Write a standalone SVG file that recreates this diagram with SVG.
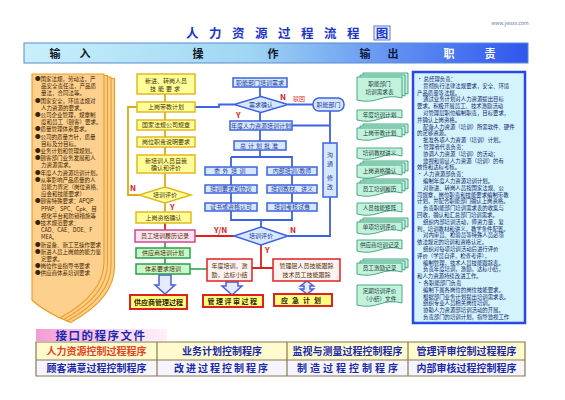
<svg xmlns="http://www.w3.org/2000/svg" width="565" height="400" viewBox="0 0 565 400">
<defs>
<linearGradient id="hdr" x1="0" y1="0" x2="1" y2="0">
<stop offset="0" stop-color="#c9f0fb"/><stop offset="0.45" stop-color="#9fd6f3"/><stop offset="0.75" stop-color="#5f8ef2"/><stop offset="1" stop-color="#2f55ee"/>
</linearGradient>
<linearGradient id="pink" x1="0" y1="0" x2="1" y2="0">
<stop offset="0" stop-color="#f59ad6"/><stop offset="0.6" stop-color="#fcd4ee"/><stop offset="1" stop-color="#fff0fa"/>
</linearGradient>
<style>
text{font-family:"Noto Sans CJK SC","Noto Sans",sans-serif;}
.yb{fill:#ffff99;stroke:#e3b81c;stroke-width:1.5}
.bb{fill:#d6e8ff;stroke:#3d63e0;stroke-width:1.5}
.gb{fill:#c8f7c8;stroke:#2aa04a;stroke-width:1.5}
.pb{fill:#ffe4f0;stroke:#d24a8c;stroke-width:1.5}
.rb{fill:#ffff80;stroke:#e02020;stroke-width:2}
.rw{fill:#fff2f2;stroke:#e02020;stroke-width:1.5}
.doc{fill:#c2f2da;stroke:#3a9f80;stroke-width:0.9}
.lay{fill:#fdd08e;stroke:#f09a20;stroke-width:1.1}
.blk{fill:#e6ecff;stroke:#4a5ee0;stroke-width:1.5}
.bt{font-size:6px;fill:#1f3a9a;text-anchor:middle}
.yt{font-size:6px;fill:#4a3000;text-anchor:middle}
.dt{font-size:5.6px;fill:#1c3a3a;text-anchor:middle}
.lt{font-size:5.5px;fill:#3a2200}
.rt{font-size:5.4px;fill:#10206a}
.lbl{font-size:8px;font-weight:bold;fill:#e02020}
.ht{font-size:11px;font-weight:bold}
.tt{font-size:10px;font-weight:bold;fill:#1a2aa8;text-anchor:middle}
.res{font-size:7px;font-weight:bold;fill:#302000;text-anchor:middle}
.cb{fill:none;stroke:#3d63e0;stroke-width:1.8}
.cy{fill:none;stroke:#d9ac18;stroke-width:1.8}
.cr{fill:none;stroke:#e02020;stroke-width:1.8}
.cg{fill:none;stroke:#2a9a40;stroke-width:1.6}
</style>
</defs>
<rect width="565" height="400" fill="#ffffff"/>

<!-- title -->
<g id="title">
<text x="278" y="38" font-size="12.5" font-weight="bold" fill="#1c34c8" text-anchor="middle" letter-spacing="10.5">人力资源过程流程</text>
<rect x="374" y="26" width="16" height="14" fill="#e6eeff" stroke="#3a56c8" stroke-width="0.8"/>
<text x="382" y="37.5" font-size="12.5" font-weight="bold" fill="#1c34c8" text-anchor="middle">图</text>
<text x="510" y="25" font-size="5" fill="#6a78aa" text-anchor="middle">www.jwsxx.com</text>
</g>

<!-- header bar -->
<g id="header">
<rect x="24" y="43" width="504" height="20" fill="url(#hdr)" stroke="#5a8ad0" stroke-width="1"/>
<text x="55" y="57.5" class="ht" fill="#101828" text-anchor="middle">输</text>
<text x="85" y="57.5" class="ht" fill="#101828" text-anchor="middle">入</text>
<text x="198" y="57.5" class="ht" fill="#101828" text-anchor="middle">操</text>
<text x="273" y="57.5" class="ht" fill="#101828" text-anchor="middle">作</text>
<text x="365" y="57.5" class="ht" fill="#101840" text-anchor="middle">输</text>
<text x="393" y="57.5" class="ht" fill="#101840" text-anchor="middle">出</text>
<text x="449" y="57.5" class="ht" fill="#ffffff" text-anchor="middle">职</text>
<text x="490" y="57.5" class="ht" fill="#ffffff" text-anchor="middle">责</text>
</g>

<!-- input box -->
<g id="input">
<path class="lay" transform="translate(10.5,4.5)" d="M32,74 H104 V262 C104,288 82,306 60,318 C48,312 38,306 32,300 Z"/>
<path class="lay" transform="translate(7,3)" d="M32,74 H104 V262 C104,288 82,306 60,318 C48,312 38,306 32,300 Z"/>
<path class="lay" transform="translate(3.5,1.5)" d="M32,74 H104 V262 C104,288 82,306 60,318 C48,312 38,306 32,300 Z"/>
<path class="lay" d="M32,74 H104 V262 C104,288 82,306 60,318 C48,312 38,306 32,300 Z"/>
<text class="lt" x="35" y="81">●国家法规，劳动法，产</text>
<text class="lt" x="41" y="88.2">品安全责任法，产品质</text>
<text class="lt" x="41" y="95.4">量法，合同法等。</text>
<text class="lt" x="35" y="102.6">●国家安全，环境法规对</text>
<text class="lt" x="41" y="109.8">人力资源的要求。</text>
<text class="lt" x="35" y="117">●公司企业管理，规章制</text>
<text class="lt" x="41" y="124.2">度和员工（顾客）要求。</text>
<text class="lt" x="35" y="131.4">●质量管理体系要求。</text>
<text class="lt" x="35" y="138.6">●公司的质量方针，质量</text>
<text class="lt" x="41" y="145.8">目标及分目标。</text>
<text class="lt" x="35" y="153">●业务计划和管理规划。</text>
<text class="lt" x="35" y="160.2">●顾客部门业务发展和人</text>
<text class="lt" x="41" y="167.4">力资源需求。</text>
<text class="lt" x="35" y="174.6">●年度人力资源培训计划。</text>
<text class="lt" x="35" y="181.8">●从事影响产品质量的人</text>
<text class="lt" x="41" y="189">员能力界定（岗位资格、</text>
<text class="lt" x="41" y="196.2">应会和技能要求）</text>
<text class="lt" x="35" y="203.4">●顾客特殊要求：APQP</text>
<text class="lt" x="41" y="210.6">PPAP、SPC、Cpk、目</text>
<text class="lt" x="41" y="217.8">视化平台和防错措施等</text>
<text class="lt" x="35" y="225">●技术规范要求：</text>
<text class="lt" x="41" y="232.2">CAD、CAE、DOE、F</text>
<text class="lt" x="41" y="239.4">MEA。</text>
<text class="lt" x="35" y="246.6">●新设备、新工艺操作要求</text>
<text class="lt" x="35" y="253.8">●新进人员上岗前的能力鉴</text>
<text class="lt" x="41" y="261">定要求。</text>
<text class="lt" x="35" y="268.2">●岗位作业指导书要求</text>
<text class="lt" x="35" y="275.4">●供应商体系培训要求</text>
</g>

<!-- connectors -->
<g id="connectors">
<path class="cy" d="M165,94 V102 M165,112 V120 M165,130 V137 M165,147 V155 M165,173 V187 M165,203 V212"/>
<path class="cy" d="M139,195 H128 V107 H137"/>
<path class="cr" d="M165,223 V230"/>
<path class="cg" d="M165,242 V248 M165,258 V264 M190,269 H207"/>
<path class="cb" d="M195,107 H219 V104.5 H234"/>
<path class="cb" d="M260,87 V96.5 M260,112.5 V121 M260,130 V141 M260,150 V157 H292 V167 M231,157 V167 H231 M231,157 H260 M231,175 V185 M231,193 V203 M292,175 V185 M292,193 V203 M231,211 V220 H292 V211 M261,220 V227"/>
<path class="cb" d="M288,104.5 H313 M330,110 V143 M292,125.5 H330 M330,197 V236 H288"/>
<path class="cr" d="M195,236 H234 M261,245 V268 M252,268 H273"/>
<text class="lbl" x="130" y="191">N</text>
<text class="lbl" x="170" y="210">Y</text>
<text class="lbl" x="280" y="100">N</text>
<text x="293" y="101" font-size="6" fill="#e02020">驳回</text>
<text class="lbl" x="236" y="118">Y</text>
<text class="lbl" x="214" y="233">Y/N</text>
<text class="lbl" x="290" y="233">N</text>
<text class="lbl" x="265" y="253">Y</text>
<path class="blk" d="M159,275 H171 V285 H175 L165,294 L155,285 H159 Z"/>
<path class="blk" d="M226,282 H238 V286 H242 L232,295 L222,286 H226 Z"/>
<path class="blk" d="M307,281 L313.5,286 H310 V289 H313.5 L307,294 L300.5,289 H304 V286 H300.5 Z"/>
</g>

<!-- yellow column nodes -->
<g id="n_newstaff"><rect class="yb" x="137" y="74" width="58" height="20"/><text class="yt" x="166" y="82.5">新进、转岗人员</text><text class="yt" x="166" y="91" letter-spacing="2">技能要求</text></g>
<g id="n_plan"><rect class="yb" x="137" y="102" width="58" height="10"/><text class="yt" x="166" y="109.3">上岗带教计划</text></g>
<g id="n_law"><rect class="yb" x="137" y="120" width="58" height="10"/><text class="yt" x="166" y="127.3">国家法规公司规章</text></g>
<g id="n_duty"><rect class="yb" x="137" y="137" width="58" height="10"/><text class="yt" x="166" y="144.3">岗位职责说明要求</text></g>
<g id="n_self"><rect class="yb" x="137" y="155" width="58" height="18"/><text class="yt" x="166" y="162.8">新培训人员自我</text><text class="yt" x="166" y="170.3">确认和评价</text></g>
<g id="n_eval1"><path class="yb" d="M165,187 L191,195 L165,203 L139,195 Z"/><text class="yt" x="165" y="197.2">培训评价</text></g>
<g id="n_qualify"><rect class="yb" x="136" y="212" width="55" height="11" stroke-width="2"/><text class="yt" x="163.5" y="219.8">上岗资格确认</text></g>
<g id="n_record"><rect class="pb" x="135" y="230" width="60" height="12"/><text class="yt" x="165" y="238.3">员工培训履历记录</text></g>
<g id="n_supplan"><rect class="gb" x="136" y="248" width="54" height="10"/><text class="yt" x="163" y="255.3">供应商培训计划</text></g>
<g id="n_systrain"><rect class="gb" x="136" y="264" width="54" height="10"/><text class="yt" x="163" y="271.3">体系要求培训</text></g>
<g id="n_supmgmt"><rect class="rb" x="130" y="295" width="57" height="14"/><text class="res" x="158.5" y="304.5">供应商管理过程</text></g>

<!-- blue column nodes -->
<g id="n_deptneed"><rect class="bb" x="233" y="78" width="54" height="9"/><text class="bt" x="260" y="84.8">职能部门培训需求</text></g>
<g id="n_confirm"><path class="bb" d="M261,96.5 L288,104.5 L261,112.5 L234,104.5 Z"/><text class="bt" x="261" y="106.7">需求确认</text></g>
<g id="n_annual"><rect class="bb" x="230" y="121" width="62" height="9"/><text class="bt" x="261" y="127.8">年度人力资源培训计划</text></g>
<g id="n_approve"><rect class="bb" x="234" y="141" width="52" height="9"/><text class="bt" x="260" y="147.8" letter-spacing="2">总计划批准</text></g>
<g id="n_outsrc"><rect class="bb" x="205" y="167" width="52" height="8"/><text class="bt" x="231" y="173.3" letter-spacing="2.5">委外培训</text></g>
<g id="n_internal"><rect class="bb" x="267" y="167" width="50" height="8"/><text class="bt" x="292" y="173.3">内部培训/教师</text></g>
<g id="n_agree"><rect class="bb" x="205" y="185" width="52" height="8"/><text class="bt" x="231" y="191.3">培训要求和协议</text></g>
<g id="n_material"><rect class="bb" x="267" y="185" width="50" height="8"/><text class="bt" x="292" y="191.3">培训教材、讲义</text></g>
<g id="n_cert"><rect class="bb" x="205" y="203" width="52" height="8"/><text class="bt" x="231" y="209.3">证书或资格认可</text></g>
<g id="n_exam"><rect class="bb" x="267" y="203" width="50" height="8"/><text class="bt" x="292" y="209.3">培训考核试卷</text></g>
<g id="n_eval2"><path class="bb" d="M261,227 L288,236 L261,245 L234,236 Z"/><text class="bt" x="261" y="238.2">培训评价</text></g>
<g id="n_dept"><rect class="bb" x="313" y="98" width="31" height="13" rx="6"/><text class="bt" x="328.5" y="106.5">职能部门</text></g>
<g id="n_revise"><rect class="bb" x="323" y="143" width="14" height="54"/><text class="bt" x="330" y="157">沟</text><text class="bt" x="330" y="166">通</text><text class="bt" x="330" y="180">修</text><text class="bt" x="330" y="189">改</text></g>
<g id="n_summary"><rect class="rw" x="207" y="259" width="45" height="22"/><text class="yt" x="229.5" y="267.5">年度培训，激</text><text class="yt" x="229.5" y="277">励，达标小结</text></g>
<g id="n_track"><rect class="rw" x="273" y="259" width="67" height="22"/><text class="yt" x="306.5" y="267.5">管理层人员技能跟踪</text><text class="yt" x="306.5" y="277">技术员工技能跟踪</text></g>
<g id="n_review"><rect class="rb" x="203" y="295" width="60" height="12"/><text class="res" x="233" y="303.5" letter-spacing="1.5">管理评审过程</text></g>
<g id="n_emerg"><rect class="rb" x="274" y="294" width="58" height="12"/><text class="res" x="303" y="302.5" letter-spacing="4">应急计划</text></g>

<!-- output documents -->
<g id="d1"><path class="doc" d="M363,73 h45 v21 q-11.25,-3 -22.5,1 t-22.5,1 z"/><path class="doc" d="M360,75 h45 v21 q-11.25,-3 -22.5,1 t-22.5,1 z"/><path class="doc" d="M357,77 h45 v21 q-11.25,-3 -22.5,1 t-22.5,1 z"/><text class="dt" x="379.5" y="86">职能部门</text><text class="dt" x="379.5" y="94">培训需求表</text></g>
<g id="d2"><path class="doc" d="M357,110 h45 v8 q-11.25,-3 -22.5,1 t-22.5,1 z"/><text class="dt" x="379.5" y="116.5">年度培训计划</text></g>
<g id="d3"><path class="doc" d="M363,124 h45 v9 q-11.25,-3 -22.5,1 t-22.5,1 z"/><path class="doc" d="M360,126 h45 v9 q-11.25,-3 -22.5,1 t-22.5,1 z"/><path class="doc" d="M357,128 h45 v9 q-11.25,-3 -22.5,1 t-22.5,1 z"/><text class="dt" x="379.5" y="135">上岗带教计划</text></g>
<g id="d4"><path class="doc" d="M357,148 h45 v8 q-11.25,-3 -22.5,1 t-22.5,1 z"/><text class="dt" x="379.5" y="154.5">培训教材讲义</text></g>
<g id="d5"><path class="doc" d="M363,161 h45 v10 q-11.25,-3 -22.5,1 t-22.5,1 z"/><path class="doc" d="M360,163 h45 v10 q-11.25,-3 -22.5,1 t-22.5,1 z"/><path class="doc" d="M357,165 h45 v10 q-11.25,-3 -22.5,1 t-22.5,1 z"/><text class="dt" x="379.5" y="172.5">上岗资格确认</text></g>
<g id="d6"><path class="doc" d="M363,179 h45 v10 q-11.25,-3 -22.5,1 t-22.5,1 z"/><path class="doc" d="M360,181 h45 v10 q-11.25,-3 -22.5,1 t-22.5,1 z"/><path class="doc" d="M357,183 h45 v10 q-11.25,-3 -22.5,1 t-22.5,1 z"/><text class="dt" x="379.5" y="190.5">员工培训履历</text></g>
<g id="d7"><path class="doc" d="M357,203 h45 v9 q-11.25,-3 -22.5,1 t-22.5,1 z"/><text class="dt" x="379.5" y="210">人员技能矩阵</text></g>
<g id="d8"><path class="doc" d="M363,218 h45 v9 q-11.25,-3 -22.5,1 t-22.5,1 z"/><path class="doc" d="M360,220 h45 v9 q-11.25,-3 -22.5,1 t-22.5,1 z"/><path class="doc" d="M357,222 h45 v9 q-11.25,-3 -22.5,1 t-22.5,1 z"/><text class="dt" x="379.5" y="229">单项培训评价</text></g>
<g id="d9"><path class="doc" d="M357,240 h45 v9 q-11.25,-3 -22.5,1 t-22.5,1 z"/><text class="dt" x="379.5" y="247">供应商培训记录</text></g>
<g id="d10"><path class="doc" d="M363,259 h45 v9 q-11.25,-3 -22.5,1 t-22.5,1 z"/><path class="doc" d="M360,261 h45 v9 q-11.25,-3 -22.5,1 t-22.5,1 z"/><path class="doc" d="M357,263 h45 v9 q-11.25,-3 -22.5,1 t-22.5,1 z"/><text class="dt" x="379.5" y="270">员工激励记录</text></g>
<g id="d11"><path class="doc" d="M357,285 h45 v18 q-11.25,-3 -22.5,1 t-22.5,1 z"/><text class="dt" x="379.5" y="293">定期培训评价</text><text class="dt" x="379.5" y="301">（小结）文件</text></g>

<!-- duties -->
<g id="duties">
<rect x="413" y="72" width="112" height="251" fill="#d4f4fc" stroke="#2a48e8" stroke-width="2.5"/>
<text class="rt" x="417" y="81">• 总经理负责：</text>
<text class="rt" x="423" y="87.8">贯彻执行法律法规要求，安全、环境</text>
<text class="rt" x="417" y="94.6">产品质量等法规。</text>
<text class="rt" x="423" y="101.4">通过业务计划对人力资源提出目标</text>
<text class="rt" x="417" y="108.2">要求。积极开展员工、技术激励活动</text>
<text class="rt" x="423" y="115">对管理层职位编制职责，目标要求，</text>
<text class="rt" x="417" y="121.8">并确认上岗资格。</text>
<text class="rt" x="423" y="128.6">配备人力资源（培训）所需软件、硬件</text>
<text class="rt" x="417" y="135.4">的足够资源。</text>
<text class="rt" x="423" y="142.2">批准各项人力资源（培训）计划。</text>
<text class="rt" x="417" y="149">• 管理者代表负责：</text>
<text class="rt" x="423" y="155.8">协调人力资源（培训）的活动；</text>
<text class="rt" x="423" y="162.6">监视和验证人力资源（培训）的有</text>
<text class="rt" x="417" y="169.4">效性和达标考核。</text>
<text class="rt" x="417" y="176.2">• 人力资源部负责：</text>
<text class="rt" x="423" y="183">编制年度人力资源培训计划。</text>
<text class="rt" x="423" y="189.8">对新进、转岗人员按国家法规、公</text>
<text class="rt" x="417" y="196.6">司规章，岗位职责和技能要求编制带教</text>
<text class="rt" x="417" y="203.4">计划，并配合职能部门确认上岗资格。</text>
<text class="rt" x="423" y="210.2">负责职能部门培训需求表的收集与</text>
<text class="rt" x="417" y="217">回收，确认和汇总部门培训需求。</text>
<text class="rt" x="423" y="223.8">组织内部培训活动，师资力量，复</text>
<text class="rt" x="417" y="230.6">判，培训教材和讲义，教学条件配置。</text>
<text class="rt" x="423" y="237.4">对内审员、检验员等特殊人员必须</text>
<text class="rt" x="417" y="244.2">依法规定的培训和资格认定。</text>
<text class="rt" x="423" y="251">组织对每项培训活动后进行评价</text>
<text class="rt" x="417" y="257.8">评价（学员自评，检查考评），</text>
<text class="rt" x="423" y="264.6">编制管理，技术人员技能跟踪表。</text>
<text class="rt" x="423" y="271.4">负责年度培训，激励，达标小结，</text>
<text class="rt" x="417" y="278.2">和人力资源持续改进工作。</text>
<text class="rt" x="417" y="285">• 各职能部门负责</text>
<text class="rt" x="423" y="291.8">编制下属各岗位的岗位技能要求。</text>
<text class="rt" x="423" y="298.6">根据部门业务计划提出培训需求表。</text>
<text class="rt" x="423" y="305.4">组织专业人员相关岗位培训。</text>
<text class="rt" x="423" y="312.2">协助人力资源部培训活动的开展。</text>
<text class="rt" x="423" y="319">负责部门的培训计划，指导监视工作</text>
</g>

<!-- interface procedures -->
<g id="interface">
<rect x="36" y="329" width="131" height="12" fill="url(#pink)"/>
<text x="101" y="339.5" font-size="11.5" font-weight="bold" fill="#1a2ab0" text-anchor="middle" letter-spacing="1.5">接口的程序文件</text>
<rect x="36" y="342" width="489" height="18" fill="#fffbcf"/>
<rect x="36" y="360" width="489" height="16" fill="#f6f4ff"/>
<path d="M36,342 H525 V376 H36 Z M36,360 H525 M157,342 V376 M287,342 V376 M408,342 V376" fill="none" stroke="#8a7a50" stroke-width="1.2"/>
<text class="tt" x="96.5" y="355" fill="#e8401c" style="fill:#e8401c">人力资源控制过程程序</text>
<text class="tt" x="222" y="355">业务计划控制程序</text>
<text class="tt" x="347.5" y="355">监视与测量过程控制程序</text>
<text class="tt" x="466.5" y="355">管理评审控制过程程序</text>
<text class="tt" x="96.5" y="372">顾客满意过程控制程序</text>
<text class="tt" x="222" y="372" letter-spacing="2">改进过程控制程序</text>
<text class="tt" x="349" y="372" letter-spacing="3">制造过程控制程序</text>
<text class="tt" x="466.5" y="372">内部审核过程控制程序</text>
</g>
</svg>
